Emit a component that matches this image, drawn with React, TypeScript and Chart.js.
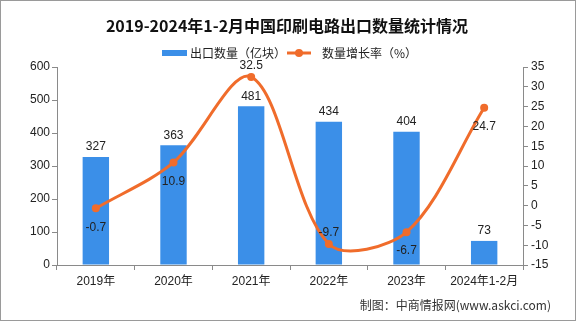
import React, { useEffect, useRef } from 'react';
import { Chart, registerables } from 'chart.js';

Chart.register(...registerables);

const titleText = '2019-2024年1-2月中国印刷电路出口数量统计情况';
const barLegend = '出口数量（亿块）';
const lineLegend = '数量增长率（%）';
const sourceText = '制图：中商情报网(www.askci.com)';

const categories = ['2019年', '2020年', '2021年', '2022年', '2023年', '2024年1-2月'];
const exportQty = [327, 363, 481, 434, 404, 73];
const growthRate = [-0.7, 10.9, 32.5, -9.7, -6.7, 24.7];
const growthLabelSide = ['below', 'below', 'above', 'above', 'below', 'below'];

const leftMin = 0;
const leftMax = 600;
const leftStep = 100;
const rightMin = -15;
const rightMax = 35;
const rightStep = 5;

const BAR_COLOR = '#3b8fe8';
const LINE_COLOR = '#f06c2b';
const TEXT_COLOR = '#222';
const AXIS_COLOR = '#8a8a8a';
const CJK = "'Noto Sans CJK SC', sans-serif";
const LAT = "'Liberation Sans', 'Noto Sans CJK SC', sans-serif";

const decorPlugin = {
  id: 'decor',
  beforeDraw(chart: any) {
    const ctx = chart.ctx;
    ctx.save();
    ctx.fillStyle = '#ffffff';
    ctx.fillRect(0, 0, chart.width, chart.height);
    ctx.restore();
  },
  afterDraw(chart: any) {
    const ctx = chart.ctx;
    ctx.save();
    // title
    ctx.fillStyle = '#111';
    ctx.font = `bold 16px ${CJK}`;
    ctx.textAlign = 'center';
    ctx.textBaseline = 'middle';
    ctx.fillText(titleText, 287, 26);

    // legend
    ctx.font = `12px ${CJK}`;
    ctx.textAlign = 'left';
    ctx.fillStyle = BAR_COLOR;
    ctx.fillRect(162, 50, 25, 6);
    ctx.fillStyle = TEXT_COLOR;
    ctx.fillText(barLegend, 190, 53);
    ctx.strokeStyle = LINE_COLOR;
    ctx.lineWidth = 3;
    ctx.beginPath();
    ctx.moveTo(287, 53);
    ctx.lineTo(311, 53);
    ctx.stroke();
    ctx.fillStyle = LINE_COLOR;
    ctx.beginPath();
    ctx.arc(299, 53, 4, 0, Math.PI * 2);
    ctx.fill();
    ctx.fillStyle = TEXT_COLOR;
    ctx.fillText(lineLegend, 322, 53);

    // value labels
    ctx.font = `12px ${LAT}`;
    ctx.textAlign = 'center';
    const barMeta = chart.getDatasetMeta(0);
    barMeta.data.forEach((el: any, i: number) => {
      ctx.fillText(String(exportQty[i]), el.x, el.y - 10);
    });
    const lineMeta = chart.getDatasetMeta(1);
    lineMeta.data.forEach((el: any, i: number) => {
      const dy = growthLabelSide[i] === 'above' ? -11 : 19;
      ctx.fillText(growthRate[i].toFixed(1), el.x, el.y + dy);
    });

    // source
    ctx.font = `12px ${CJK}`;
    ctx.textAlign = 'right';
    ctx.fillStyle = '#333';
    ctx.fillText(sourceText, 551, 305);

    // border
    ctx.strokeStyle = '#9a9a9a';
    ctx.lineWidth = 1;
    ctx.strokeRect(0.5, 0.5, chart.width - 1, chart.height - 1);
    ctx.restore();
  },
};

export default function App() {
  const ref = useRef<HTMLCanvasElement | null>(null);

  useEffect(() => {
    if (!ref.current) return;
    const chart = new Chart(ref.current, {
      type: 'bar',
      data: {
        labels: categories,
        datasets: [
          {
            type: 'bar',
            label: barLegend,
            data: exportQty,
            backgroundColor: BAR_COLOR,
            yAxisID: 'y',
            categoryPercentage: 1,
            barPercentage: 0.34,
            order: 1,
          },
          {
            type: 'line',
            label: lineLegend,
            data: growthRate,
            borderColor: LINE_COLOR,
            backgroundColor: LINE_COLOR,
            borderWidth: 3,
            pointRadius: 4,
            pointBorderWidth: 0,
            pointBackgroundColor: LINE_COLOR,
            tension: 0.32,
            yAxisID: 'y1',
            order: 0,
          } as any,
        ],
      },
      options: {
        responsive: false,
        animation: false,
        devicePixelRatio: 1,
        layout: { padding: { top: 67, left: 0, right: 0, bottom: 0 } },
        plugins: {
          legend: { display: false },
          title: { display: false },
          tooltip: { enabled: false },
        },
        scales: {
          x: {
            grid: { offset: true, drawOnChartArea: false, tickLength: 5, color: AXIS_COLOR },
            border: { color: AXIS_COLOR },
            ticks: { color: TEXT_COLOR, font: { size: 12, family: LAT }, padding: 4, maxRotation: 0, autoSkip: false },
            afterFit(scale: any) { scale.height = 56; },
          },
          y: {
            position: 'left',
            min: leftMin,
            max: leftMax,
            grid: { drawOnChartArea: false, tickLength: 5, color: AXIS_COLOR },
            border: { color: AXIS_COLOR },
            ticks: { stepSize: leftStep, color: TEXT_COLOR, font: { size: 12, family: LAT }, padding: 2 },
            afterFit(scale: any) { scale.width = 57; },
          },
          y1: {
            position: 'right',
            min: rightMin,
            max: rightMax,
            grid: { drawOnChartArea: false, tickLength: 5, color: AXIS_COLOR },
            border: { color: AXIS_COLOR },
            ticks: { stepSize: rightStep, color: TEXT_COLOR, font: { size: 12, family: LAT }, padding: 3 },
            afterFit(scale: any) { scale.width = 53; },
          },
        },
      } as any,
      plugins: [decorPlugin],
    });
    return () => chart.destroy();
  }, []);

  return (
    <div style={{ position: 'absolute', left: 0, top: 0, width: 576, height: 321 }}>
      <canvas ref={ref} width={576} height={321} style={{ display: 'block', width: 576, height: 321 }} />
    </div>
  );
}
